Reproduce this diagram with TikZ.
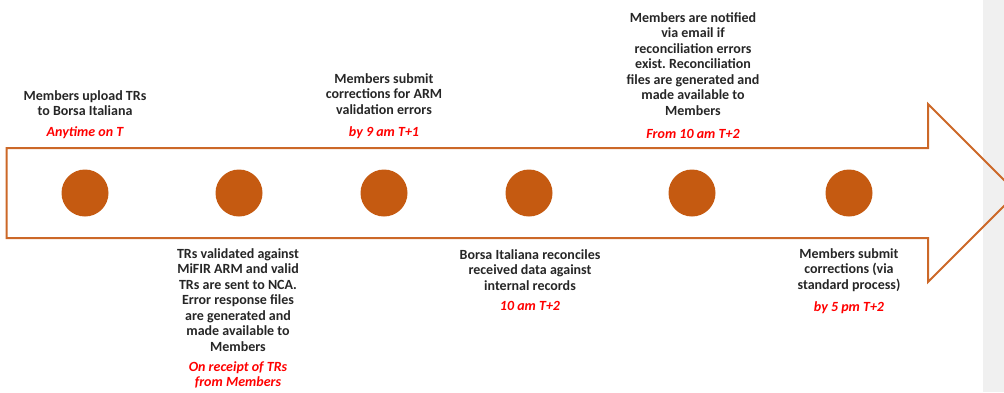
\documentclass[tikz,border=0pt]{standalone}
\usepackage{fontspec}
\setmainfont{Carlito}
\frenchspacing
\definecolor{dotfill}{RGB}{197,90,17}
\definecolor{arrowline}{RGB}{204,104,40}
\definecolor{stripgrey}{RGB}{240,240,240}
\definecolor{timered}{RGB}{255,0,0}
\begin{document}
\begin{tikzpicture}[x=1pt,y=-1pt,
  dot/.style={circle,fill=dotfill,draw=none,minimum size=47pt,inner sep=0pt},
  desc/.style={anchor=north,align=center,inner sep=0pt,font=\fontsize{14}{15.5}\selectfont\bfseries\frenchspacing,text=black!85},
  when/.style={anchor=north,align=center,inner sep=0pt,font=\fontsize{14}{15.5}\selectfont\bfseries\itshape,text=timered}]
\useasboundingbox (0,0) rectangle (1004,392);
\clip (0,0) rectangle (1004,392);
\fill[stripgrey] (983,0) rectangle (1004,392);
% big arrow
\draw[arrowline,line width=2pt,line join=miter]
  (6.7,148) -- (928,148) -- (928,104) -- (1017,193) -- (928,282) -- (928,238) -- (6.7,238) -- cycle;
% dots
\node[dot] (c1) at (85,193) {};
\node[dot] (c2) at (239,193) {};
\node[dot] (c3) at (384,193) {};
\node[dot] (c4) at (529,193) {};
\node[dot] (c5) at (692,193) {};
\node[dot] (c6) at (849,193) {};
% texts
\node[desc] (t1) at (85,90) {Members upload TRs\\to Borsa Italiana};
\node[when] (r1) at (85,126.5) {Anytime on T};
\node[desc] (t2) at (238,248) {TRs validated against\\MiFIR ARM and valid\\TRs are sent to NCA.\\Error response files\\are generated and\\made available to\\Members};
\node[when] (r2) at (238,361) {On receipt of TRs\\from Members};
\node[desc] (t3) at (384,73) {Members submit\\corrections for ARM\\validation errors};
\node[when] (r3) at (384,126) {by 9 am T+1};
\node[desc] (t4) at (530,249) {Borsa Italiana reconciles\\received data against\\internal records};
\node[when] (r4) at (530,301) {10 am T+2};
\node[desc] (t5) at (693,12) {Members are notified\\via email if\\reconciliation errors\\exist. Reconciliation\\files are generated and\\made available to\\Members};
\node[when] (r5) at (693,129) {From 10 am T+2};
\node[desc] (t6) at (849,248) {Members submit\\corrections (via\\standard process)};
\node[when] (r6) at (849,301) {by 5 pm T+2};
\end{tikzpicture}
\end{document}
